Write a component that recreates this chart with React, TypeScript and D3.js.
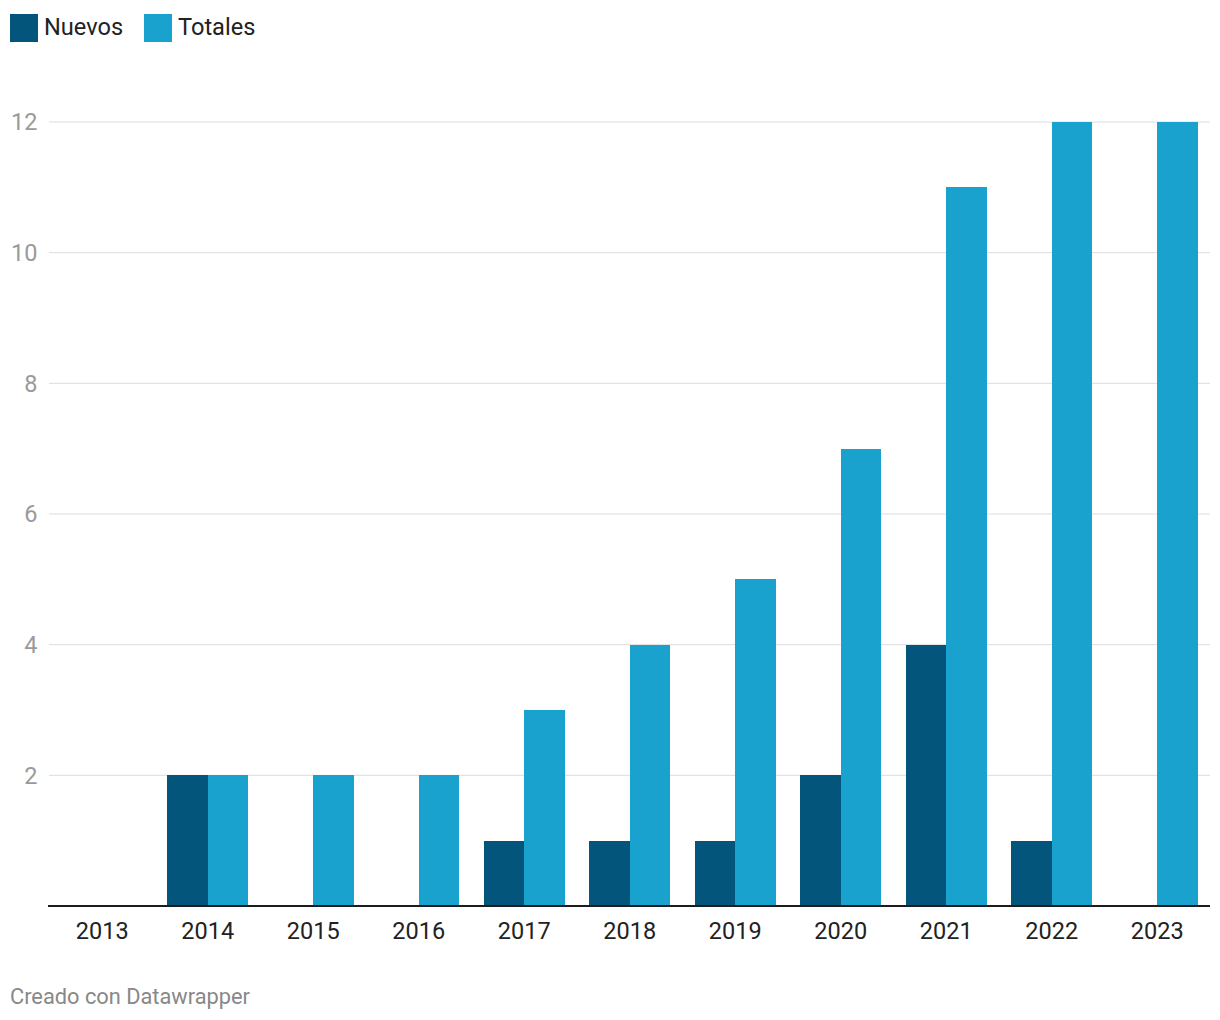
import React from "react";
import * as d3 from "d3";

const years = ["2013", "2014", "2015", "2016", "2017", "2018", "2019", "2020", "2021", "2022", "2023"];
const nuevos = [0, 2, 0, 0, 1, 1, 1, 2, 4, 1, 0];
const totales = [0, 2, 2, 2, 3, 4, 5, 7, 11, 12, 12];
const seriesNames = ["Nuevos", "Totales"];
const seriesColors = ["#04557c", "#19a2cd"];
const yTicks = [2, 4, 6, 8, 10, 12];

const W = 1220;
const H = 1020;
const FONT = "Roboto, 'Noto Sans', sans-serif";

export default function App() {
  const x = d3.scaleBand<string>().domain(years).range([49.5, 1210]).paddingInner(0.232).paddingOuter(0.116);
  const x1 = d3.scaleBand<string>().domain(seriesNames).range([0, x.bandwidth()]);
  const y = d3.scaleLinear().domain([0, 12]).range([906, 122]);
  const data = [nuevos, totales];

  return (
    <svg width={W} height={H} style={{ position: "absolute", left: 0, top: 0, background: "#fff" }} fontFamily={FONT}>
      {/* legend */}
      {seriesNames.map((s, i) => {
        const lx = i === 0 ? 10 : 144;
        return (
          <g key={s}>
            <rect x={lx} y={14} width={28} height={28} fill={seriesColors[i]} />
            <text x={lx + 34} y={34.5} fontSize={23.6} fill="#222">{s}</text>
          </g>
        );
      })}
      {/* gridlines */}
      {yTicks.map((t) => (
        <g key={t}>
          <line x1={49} x2={1210} y1={y(t)} y2={y(t)} stroke="#dddddd" strokeWidth={1} />
          <text x={37.5} y={y(t)} dy="0.35em" textAnchor="end" fontSize={23.5} fill="#9a9a9a">{t}</text>
        </g>
      ))}
      {/* bars */}
      {years.map((yr, i) => (
        <g key={yr} transform={`translate(${x(yr)},0)`}>
          {seriesNames.map((s, j) => {
            const v = data[j][i];
            if (!v) return null;
            return (
              <rect key={s} x={x1(s)} y={y(v)} width={x1.bandwidth() + (j === 0 ? 0.5 : 0)} height={y(0) - y(v)} fill={seriesColors[j]} shapeRendering="crispEdges" />
            );
          })}
          <text x={x.bandwidth() / 2} y={938.5} textAnchor="middle" fontSize={23.5} fill="#222">{yr}</text>
        </g>
      ))}
      {/* baseline */}
      <line x1={48} x2={1210} y1={906} y2={906} stroke="#1d1d1d" strokeWidth={2} />
      <text x={10} y={1004} fontSize={21.8} fill="#888">Creado con Datawrapper</text>
    </svg>
  );
}
